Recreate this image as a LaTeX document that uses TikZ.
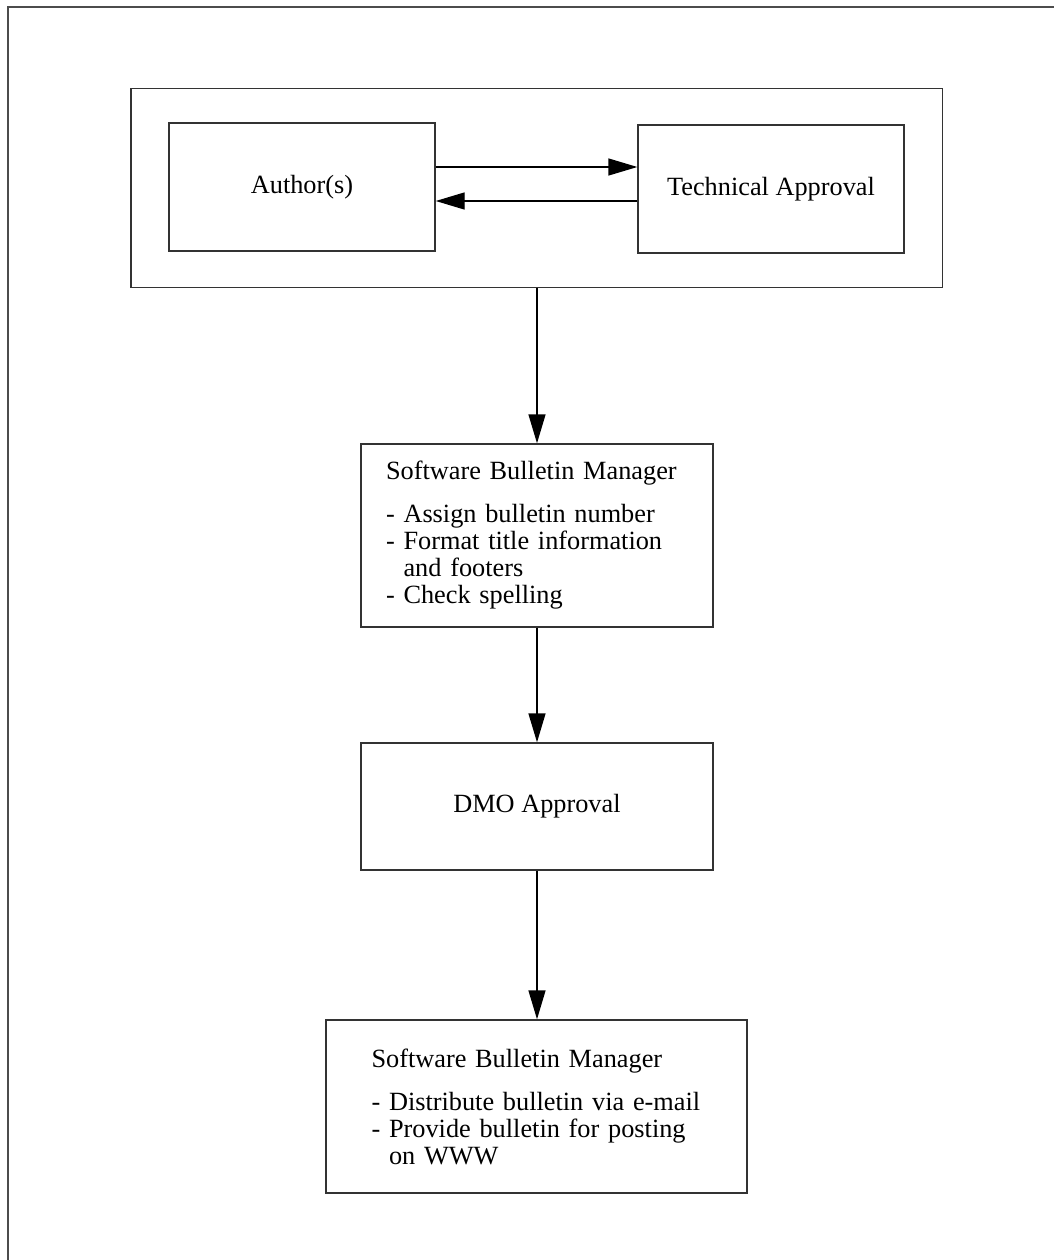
\documentclass[tikz,border=0pt]{standalone}
\usepackage{fontspec}
\setmainfont{Liberation Serif}
\usetikzlibrary{arrows.meta,fit}

\tikzset{
  stepbox/.style={draw=black!80,line width=1.4pt,minimum width=266pt,minimum height=128pt,inner sep=0pt},
  listbox/.style={draw=black!80,line width=1.4pt,align=left,inner ysep=0pt},
  flow/.style={line width=1.4pt,-{Triangle[length=29pt,width=17pt]}}
}

\begin{document}
\begin{tikzpicture}[x=1pt,y=-1pt,every node/.style={font=\fontsize{26.3}{27}\selectfont}]
\useasboundingbox (0,0) rectangle (1054,1260);
% Page frame (top and left edges only).
\draw[line width=2pt,black!70] (8,1260)--(8,7)--(1054,7);
% Review loop between the writers and the technical reviewer.
\node[stepbox] (authors) at (302,187) {Author(s)};
\node[stepbox] (techappr) at (771,189) {Technical Approval};
\node[draw=black!80,line width=1.4pt,inner xsep=37.5pt,inner ysep=34pt,fit=(authors)(techappr)] (review) {};
\draw[flow] ([yshift=20pt]authors.east) -- ([yshift=20pt]authors.east -| techappr.west);
\draw[flow] ([yshift=-14pt]authors.east -| techappr.west) -- ([yshift=-14pt]authors.east);
% Bulletin manager, DMO, release.
\node[listbox,text width=302pt,inner xsep=25pt,minimum height=183pt] (sbmprep) at (537,535.5)
  {Software Bulletin Manager\\[16pt]
   - Assign bulletin number\\
   - Format title information\\
   \hphantom{- }and footers\\
   - Check spelling};
\node[stepbox,minimum width=352pt,minimum height=127pt] (dmo) at (537,806.5) {DMO Approval};
\node[listbox,text width=330pt,inner xsep=45.5pt,minimum height=173pt] (sbmrel) at (536.5,1106.5)
  {Software Bulletin Manager\\[16pt]
   - Distribute bulletin via e-mail\\
   - Provide bulletin for posting\\
   \hphantom{- }on WWW};
\draw[flow] (review.south -| sbmprep.north) -- (sbmprep.north);
\draw[flow] (sbmprep.south) -- (dmo.north);
\draw[flow] (dmo.south) -- (dmo.south |- sbmrel.north);
\end{tikzpicture}
\end{document}
